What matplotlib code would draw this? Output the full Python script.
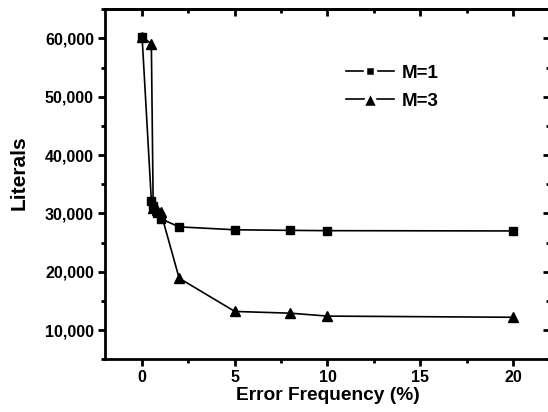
import matplotlib
matplotlib.use('Agg')
import matplotlib.pyplot as plt
from matplotlib.lines import Line2D
from matplotlib.markers import MarkerStyle
from matplotlib.ticker import MultipleLocator, FuncFormatter

# Error frequency (%) and literal counts
freq = [0, 0.5, 0.6, 0.8, 1, 2, 5, 8, 10, 20]
literals_m1 = [60300, 32200, 31200, 30000, 29100, 27700, 27200, 27100, 27050, 27000]
literals_m3 = [60300, 59100, 31000, 30600, 30300, 18900, 13200, 12900, 12400, 12200]
labels = ['M=1', 'M=3']

plt.rcParams['font.family'] = ['Liberation Sans', 'DejaVu Sans']
plt.rcParams['font.weight'] = 'bold'

fig = plt.figure(figsize=(5.48, 4.12), dpi=100)
ax = fig.add_axes([0.1916, 0.128, 0.812, 0.8494])

ax.plot(freq, literals_m1, color='black', lw=1.2, marker='s', ms=6)
ax.plot(freq, literals_m3, color='black', lw=1.2, marker='^', ms=7.5)

ax.set_xlim(-2, 22)
ax.set_ylim(5000, 65000)

ax.xaxis.set_major_locator(MultipleLocator(5))
ax.xaxis.set_minor_locator(MultipleLocator(2.5))
ax.yaxis.set_major_locator(MultipleLocator(10000))
ax.yaxis.set_minor_locator(MultipleLocator(5000))
ax.yaxis.set_major_formatter(FuncFormatter(lambda v, p: f"{int(v):,}"))

for s in ax.spines.values():
    s.set_linewidth(2)
ax.tick_params(which='major', direction='out', length=5, width=2,
               labelsize=11.5, pad=3)
ax.tick_params(which='minor', direction='out', length=3, width=2)
for t in ax.get_xticklabels() + ax.get_yticklabels():
    t.set_fontweight('bold')

# mirrored ticks pointing inward on top and right
top = ax.secondary_xaxis('top')
top.xaxis.set_major_locator(MultipleLocator(5))
top.xaxis.set_minor_locator(MultipleLocator(2.5))
right = ax.secondary_yaxis('right')
right.yaxis.set_major_locator(MultipleLocator(10000))
right.yaxis.set_minor_locator(MultipleLocator(5000))
for sec in (top, right):
    sec.tick_params(which='major', direction='in', length=5, width=2,
                    labeltop=False, labelright=False)
    sec.tick_params(which='minor', direction='in', length=3, width=2)
    for s in sec.spines.values():
        s.set_linewidth(2)

ax.set_xlabel('Error Frequency (%)', fontsize=13.8, fontweight='bold',
              labelpad=1)
ax.set_ylabel('Literals', fontsize=15, fontweight='bold')
ax.yaxis.set_label_coords(-0.172, 0.532)

# legend handles: white marker edge leaves a gap in the line
handles = [
    Line2D([], [], color='black', lw=1.2,
           marker=MarkerStyle('s', joinstyle='round'), ms=7.5,
           mfc='black', mec='white', mew=2.5),
    Line2D([], [], color='black', lw=1.2,
           marker=MarkerStyle('^', joinstyle='round'), ms=11,
           mfc='black', mec='white', mew=2.5),
]
leg = ax.legend(handles, labels, loc='upper left',
                bbox_to_anchor=(0.524, 0.864), borderaxespad=0,
                frameon=False, fontsize=13.5, handlelength=2.6,
                handletextpad=0.4, labelspacing=0.6)
for t in leg.get_texts():
    t.set_fontweight('bold')

fig.savefig('out.png', dpi=100)
